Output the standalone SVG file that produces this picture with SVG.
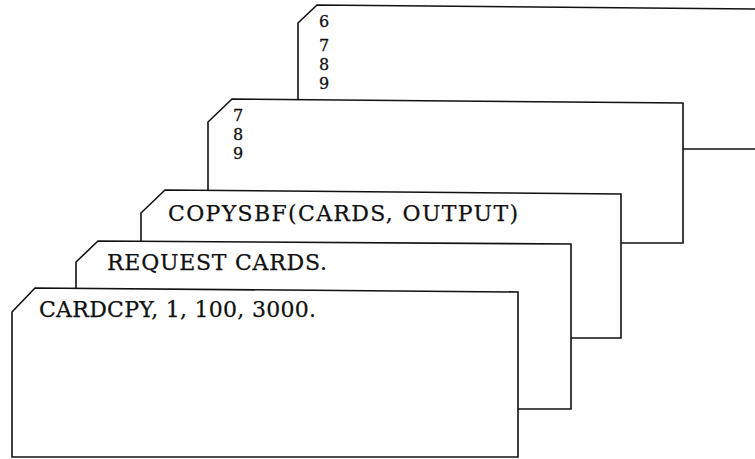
<svg xmlns="http://www.w3.org/2000/svg" width="755" height="459" viewBox="0 0 755 459">
<style>
.card{fill:#fff;stroke:#111;stroke-width:1.6;stroke-linejoin:miter}
.t{font-family:"DejaVu Serif","Liberation Serif",serif;font-size:22px;fill:#111;stroke:#111;stroke-width:0.25}
.d{font-family:"DejaVu Serif","Liberation Serif",serif;font-size:16px;fill:#111;stroke:#111;stroke-width:0.3}
</style>
<rect width="755" height="459" fill="#fff"/>
<g id="card5">
<path class="card" d="M298,149 L298,23 L317,5 L762,9 L762,149 Z"/>
<text class="d" x="319" y="27">6</text>
<text class="d" x="319" y="51">7</text>
<text class="d" x="319" y="70">8</text>
<text class="d" x="319" y="89">9</text>
</g>
<g id="card4">
<path class="card" d="M208,243 L208,122 L232,99 L683,103 L683,243 Z"/>
<text class="d" x="233" y="121">7</text>
<text class="d" x="233" y="140">8</text>
<text class="d" x="233" y="159">9</text>
</g>
<g id="card3">
<path class="card" d="M141,338 L141,213 L165,190 L621,194 L621,338 Z"/>
<text class="t" x="168" y="221" textLength="350" lengthAdjust="spacing">COPYSBF(CARDS, OUTPUT)</text>
</g>
<g id="card2">
<path class="card" d="M76,409 L76,262 L98,241 L571,244 L571,409 Z"/>
<text class="t" x="107" y="270" textLength="220" lengthAdjust="spacing">REQUEST CARDS.</text>
</g>
<g id="card1">
<path class="card" d="M12,457 L12,312 L35,288 L518,292 L518,457 Z"/>
<text class="t" x="39" y="317" textLength="277" lengthAdjust="spacing">CARDCPY, 1, 100, 3000.</text>
</g>
<g id="connectors"/>
</svg>
